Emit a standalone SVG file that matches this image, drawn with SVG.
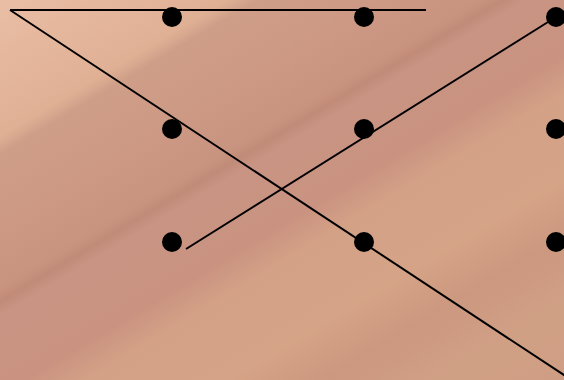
<svg xmlns="http://www.w3.org/2000/svg" width="564" height="380" viewBox="0 0 564 380">
<defs>
<linearGradient id="wood" gradientUnits="userSpaceOnUse" x1="0" y1="0" x2="317" y2="528">
<stop offset="0" stop-color="#e9bea5"/>
<stop offset="0.19" stop-color="#e0b095"/>
<stop offset="0.215" stop-color="#cf9e88"/>
<stop offset="0.3" stop-color="#cd9a85"/>
<stop offset="0.4" stop-color="#c9947f"/>
<stop offset="0.42" stop-color="#c18b79"/>
<stop offset="0.44" stop-color="#c99483"/>
<stop offset="0.55" stop-color="#ca9381"/>
<stop offset="0.6" stop-color="#d3a186"/>
<stop offset="0.72" stop-color="#d5a386"/>
<stop offset="0.8" stop-color="#cc9880"/>
<stop offset="0.9" stop-color="#d0a085"/>
<stop offset="1" stop-color="#cf9d83"/>
</linearGradient>
<style>
.dot{fill:#000}
.edge{stroke:#000;stroke-width:2;fill:none}
</style>
</defs>
<rect x="0" y="0" width="564" height="380" fill="url(#wood)"/>
<g id="connectors">
<line class="edge" x1="10" y1="10" x2="426" y2="10"/>
<line class="edge" x1="10" y1="10" x2="570" y2="379"/>
<line class="edge" x1="186" y1="249" x2="556" y2="17"/>
</g>
<g id="n1"><circle class="dot" cx="172" cy="17" r="10"/></g>
<g id="n2"><circle class="dot" cx="364" cy="17" r="10"/></g>
<g id="n3"><circle class="dot" cx="556" cy="17" r="10"/></g>
<g id="n4"><circle class="dot" cx="172" cy="129" r="10"/></g>
<g id="n5"><circle class="dot" cx="364" cy="129" r="10"/></g>
<g id="n6"><circle class="dot" cx="556" cy="129" r="10"/></g>
<g id="n7"><circle class="dot" cx="172" cy="242" r="10"/></g>
<g id="n8"><circle class="dot" cx="364" cy="242" r="10"/></g>
<g id="n9"><circle class="dot" cx="556" cy="242" r="10"/></g>
</svg>
